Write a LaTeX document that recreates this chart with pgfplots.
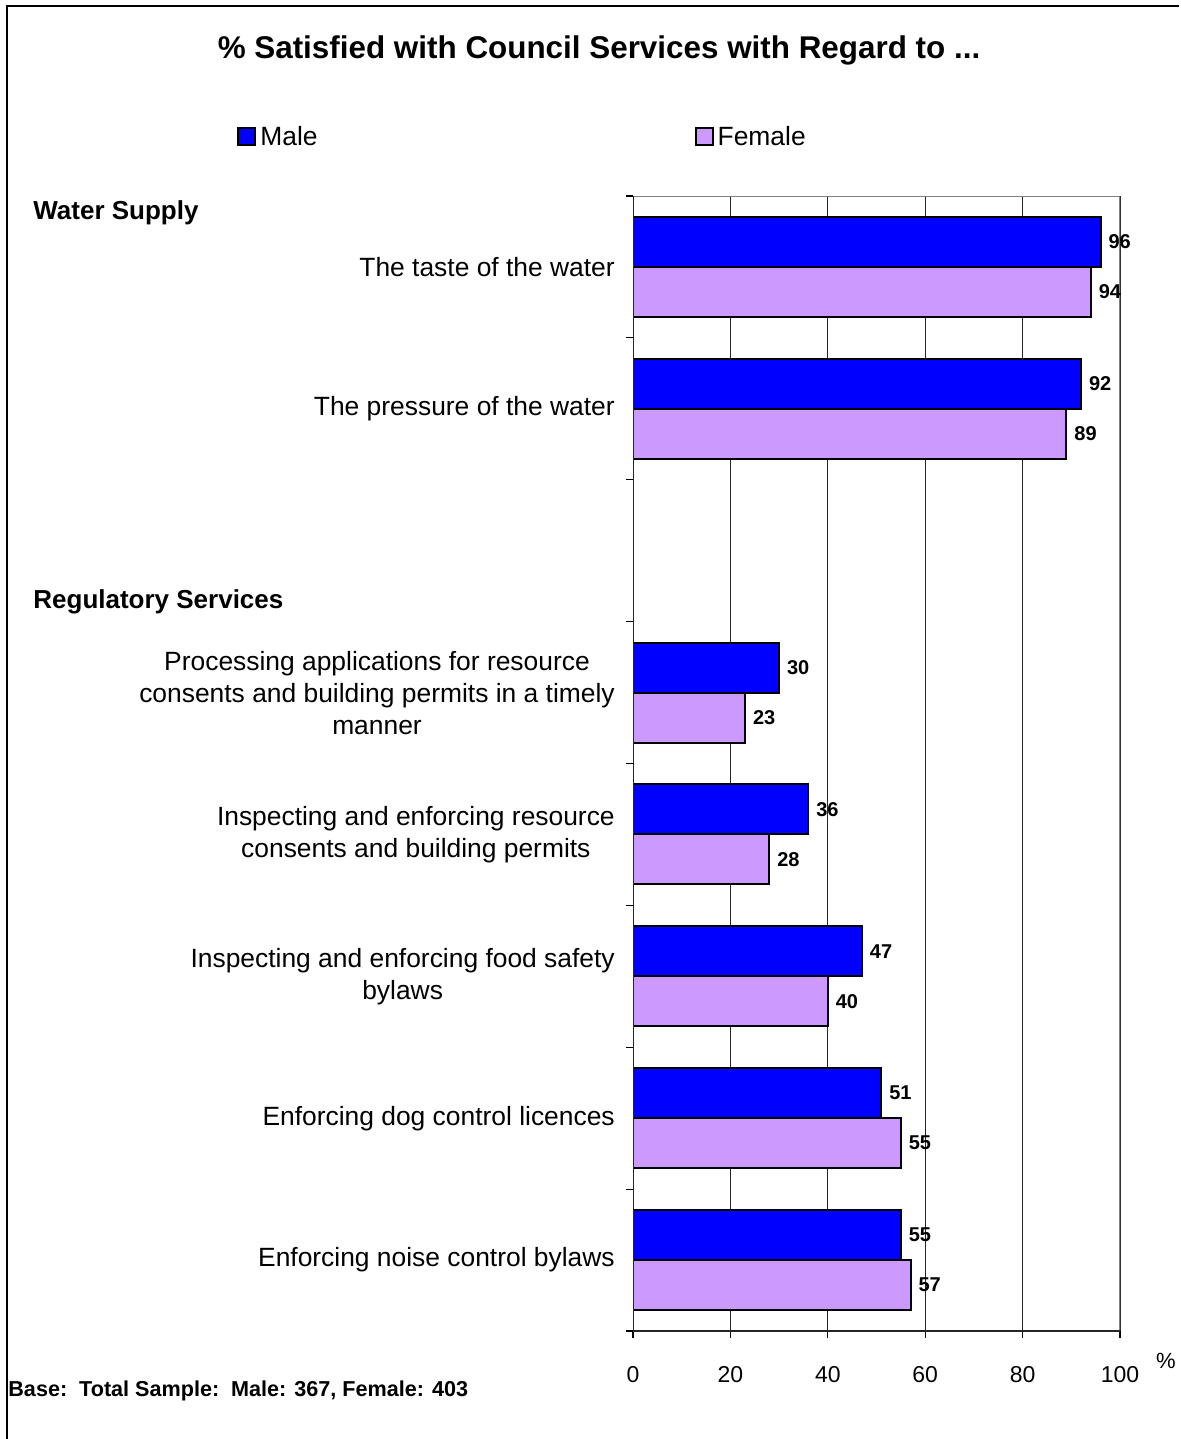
\documentclass[border=0pt]{standalone}
\usepackage{pgfplots}
\pgfplotsset{compat=1.18}
\usepackage{fontspec}
\setmainfont{Liberation Sans}
\definecolor{maleblue}{RGB}{0,0,255}
\definecolor{femalepurple}{RGB}{204,153,255}
\definecolor{bordergray}{RGB}{128,128,128}
\begin{document}
\begin{tikzpicture}
\path[use as bounding box] (0,0) rectangle (590.5pt,719.5pt);
\draw[line width=0.8pt] (3.5pt,0) -- (3.5pt,716.5pt) -- (589.5pt,716.5pt);
\node[font=\bfseries\fontsize{15.7}{19}\selectfont] at (299.5pt,694.5pt) {\% Satisfied with Council Services with Regard to ...};
\node[font=\bfseries\fontsize{13}{16}\selectfont, anchor=west, inner sep=0pt] at (16.5pt,613pt) {Water Supply};
\node[font=\bfseries\fontsize{13}{16}\selectfont, anchor=west, inner sep=0pt] at (16.5pt,418.5pt) {Regulatory Services};
\node[font=\bfseries\fontsize{10.8}{13}\selectfont, anchor=west, inner sep=0pt] at (4pt,24pt) {Base:\ \ Total Sample:\ \ Male: 367, Female: 403};
\begin{axis}[
  at={(316.5pt,54pt)}, anchor=south west,
  scale only axis, width=243.5pt, height=567.5pt,
  xbar, bar width=25pt,
  xmin=0, xmax=100, ymin=0.5, ymax=8.5, y dir=reverse,
  xtick={0,20,...,100}, xtick pos=bottom, ytick pos=left,
  ytick={0.5,1.5,...,8.5}, yticklabels={},
  extra y ticks={1,2,3,4,5,6,7,8},
  extra y tick labels={The taste of the water, The pressure of the water, {},
    {Processing applications for resource\\consents and building permits in a timely\\manner},
    {Inspecting and enforcing resource\\consents and building permits},
    {Inspecting and enforcing food safety\\bylaws},
    Enforcing dog control licences, Enforcing noise control bylaws},
  extra y tick style={major tick length=0pt, tick style={draw=none},
    yticklabel style={font=\fontsize{13.2}{16}\selectfont, align=center, xshift=-5.6pt}},
  major tick length=3.5pt,
  tick align=outside,
  tick style={draw=black, line width=0.6pt},
  xmajorgrids, grid style={black!85, line width=0.5pt},
  axis line style={draw=none},
  /pgf/number format/assume math mode=true,
  xticklabel style={font=\fontsize{11.5}{14}\selectfont, yshift=-10.5pt},
  xlabel={\%},
  xlabel style={at={(rel axis cs:1,0)}, anchor=center, xshift=23pt, yshift=-15pt, font=\fontsize{11}{13}\selectfont},
  point meta=explicit symbolic,
  nodes near coords,
  every node near coord/.append style={font=\bfseries\fontsize{10}{12}\selectfont, anchor=west, inner sep=3.5pt},
  legend style={at={(rel axis cs:-0.813,1.052)}, anchor=west, draw=none, fill=none, inner sep=0pt,
    font=\fontsize{13.2}{16}\selectfont, /tikz/every even column/.append style={column sep=186.5pt}},
  legend columns=2,
  legend image code/.code={\draw[#1,draw=black,line width=1pt] (0pt,-4.25pt) rectangle (8.5pt,4.25pt);},
]
\addplot[fill=maleblue, draw=black, line width=1pt, bar shift=12.5pt] coordinates {
  (96,1) [96] (92,2) [92] (30,4) [30] (36,5) [36] (47,6) [47] (51,7) [51] (55,8) [55]};
\addlegendentry{Male}
\addplot[fill=femalepurple, draw=black, line width=1pt, bar shift=-12.5pt] coordinates {
  (94,1) [94] (89,2) [89] (23,4) [23] (28,5) [28] (40,6) [40] (55,7) [55] (57,8) [57]};
\addlegendentry{Female}
\draw[bordergray, line width=1pt] (rel axis cs:0,1) -- (rel axis cs:1,1) -- (rel axis cs:1,0);
\draw[black!85, line width=1pt] (rel axis cs:0,1) -- (rel axis cs:0,0) -- (rel axis cs:1,0);
\end{axis}
\end{tikzpicture}
\end{document}
